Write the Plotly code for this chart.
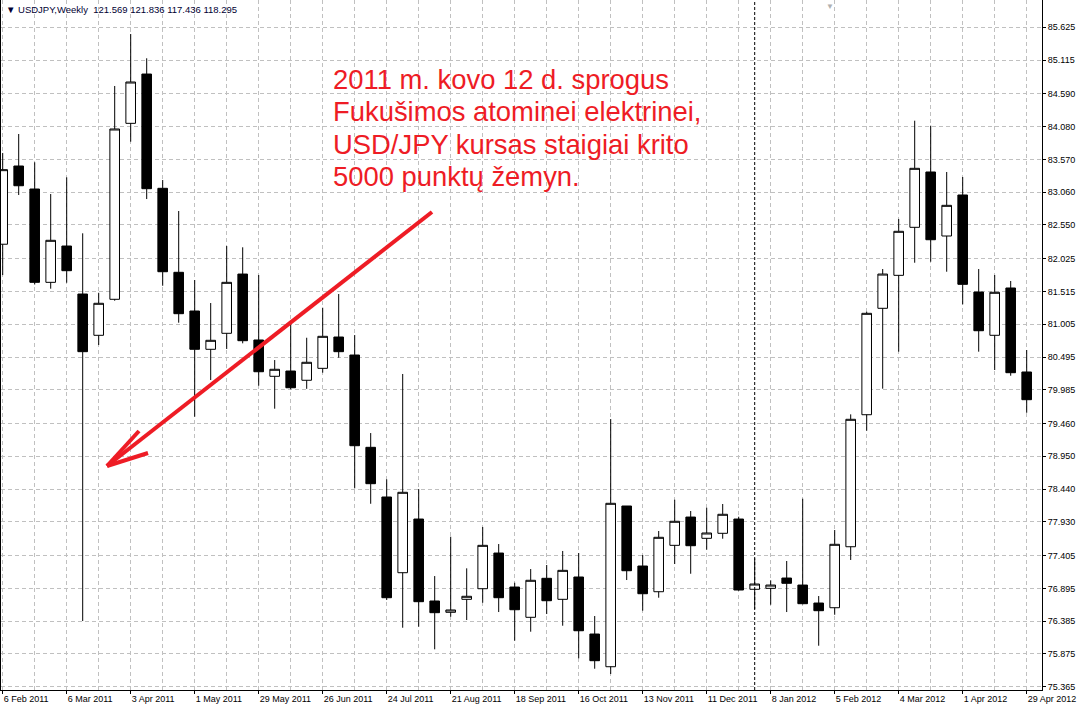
import pandas as pd
import plotly.graph_objects as go

# weekly bars, USDJPY, from 6 Feb 2011
weeks = pd.date_range("2011-02-06", periods=65, freq="7D")

opens = [82.25, 83.467, 83.109, 81.657, 82.222, 81.475, 80.833, 81.393, 84.131, 84.898,
         83.12, 81.813, 81.211, 80.615, 80.864, 81.786, 80.76, 80.195, 80.277, 80.133,
         80.319, 80.806, 80.526, 79.09, 78.317, 77.139, 77.974, 76.699, 76.523, 76.725,
         76.89, 77.445, 76.916, 76.445, 77.052, 76.725, 77.072, 76.185, 75.676, 78.177,
         77.243, 76.843, 77.565, 78.005, 77.674, 77.752, 77.974, 76.881, 76.896, 77.056,
         76.947, 76.667, 76.594, 77.543, 79.597, 81.253, 81.766, 82.513, 83.374, 82.378,
         83.016, 81.506, 80.833, 81.569, 80.262]
highs = [83.67, 83.965, 83.525, 83.031, 83.291, 82.42, 81.495, 84.712, 85.521, 85.143,
         83.249, 82.767, 81.693, 81.335, 82.222, 82.202, 81.771, 80.448, 81.06, 80.795,
         81.262, 81.475, 80.837, 79.312, 78.592, 80.231, 78.441, 77.087, 77.699, 77.207,
         77.85, 77.585, 76.983, 77.196, 77.259, 77.477, 77.445, 76.465, 79.53, 78.177,
         77.414, 77.788, 78.275, 78.099, 78.15, 78.208, 78.01, 77.363, 77.021, 77.321,
         78.29, 76.776, 77.803, 79.603, 81.2, 81.864, 82.642, 84.172, 84.094, 83.374,
         83.296, 81.864, 81.771, 81.678, 80.604]
lows = [81.77, 83.016, 81.623, 81.558, 81.651, 76.387, 80.682, 81.371, 83.845, 82.953,
        81.604, 81.029, 79.566, 80.137, 80.62, 80.708, 80.049, 79.691, 79.992, 80.0,
        80.251, 80.484, 78.452, 78.212, 76.714, 76.283, 76.299, 75.947, 76.454, 76.403,
        76.672, 76.527, 76.081, 76.221, 76.496, 76.314, 75.807, 75.645, 75.563, 77.025,
        76.548, 76.75, 77.274, 77.123, 77.497, 77.668, 76.859, 76.574, 76.641, 76.527,
        76.647, 76.003, 76.485, 77.337, 79.348, 80.002, 80.578, 81.962, 81.978, 81.822,
        81.315, 80.578, 80.293, 80.204, 79.628]
closes = [83.41, 83.16, 81.657, 82.311, 81.838, 80.578, 81.331, 84.043, 84.774, 83.114,
          81.822, 81.169, 80.615, 80.755, 81.657, 80.749, 80.266, 80.304, 80.017, 80.413,
          80.817, 80.578, 79.115, 78.524, 76.75, 78.39, 76.688, 76.517, 76.559, 76.772,
          77.565, 76.75, 76.563, 77.021, 76.703, 77.176, 76.236, 75.77, 78.219, 77.17,
          76.812, 77.69, 77.939, 77.559, 77.757, 78.048, 76.87, 76.963, 76.947, 76.974,
          76.657, 76.548, 77.581, 79.526, 81.175, 81.786, 82.451, 83.431, 82.32, 82.855,
          81.626, 80.904, 81.502, 80.251, 79.831]

price_labels = ["85.625", "85.115", "84.590", "84.080", "83.570", "83.060", "82.550",
                "82.025", "81.515", "81.005", "80.495", "79.985", "79.460", "78.950",
                "78.440", "77.930", "77.405", "76.895", "76.385", "75.875", "75.365"]

note_lines = ["2011 m. kovo 12 d. sprogus",
              "Fukušimos atominei elektrinei,",
              "USD/JPY kursas staigiai krito",
              "5000 punktų žemyn."]

RED = "#ee1c25"
GRID = "#c0c0c0"
W, H = 1086, 711
ML, MR, MT, MB = 1, 44, 0, 21


def px(x):
    return (x - ML) / (W - ML - MR)


def py(y):
    return 1 - (y - MT) / (H - MT - MB)


label_dates = list(weeks[::4])
tick_text = [f"{d.day} {d:%b %Y}" for d in label_dates]

fig = go.Figure(go.Candlestick(
    x=weeks, open=opens, high=highs, low=lows, close=closes,
    increasing=dict(line=dict(color="black", width=1), fillcolor="white"),
    decreasing=dict(line=dict(color="black", width=1), fillcolor="black"),
    whiskerwidth=0,
))

fig.update_layout(
    width=W, height=H,
    margin=dict(l=ML, r=MR, t=MT, b=MB, autoexpand=False),
    paper_bgcolor="white", plot_bgcolor="white",
    showlegend=False,
    boxgap=0.4, boxgroupgap=0,
    font=dict(family="Liberation Sans, Arial, sans-serif", size=9, color="black"),
    xaxis=dict(
        type="date",
        range=[weeks[0] - pd.Timedelta(days=0.74), weeks[0] + pd.Timedelta(days=454.7)],
        rangeslider=dict(visible=False),
        tickmode="array", tickvals=label_dates, ticktext=tick_text,
        ticks="outside", ticklen=3, tickcolor="black",
        ticklabelposition="outside right",
        showgrid=True, gridcolor=GRID, griddash="4px,3px", gridwidth=1,
        minor=dict(tickvals=list(weeks[2::4]), showgrid=True, gridcolor=GRID,
                   griddash="4px,3px", ticks=""),
        showline=True, linecolor="black", linewidth=1, zeroline=False,
    ),
    yaxis=dict(
        side="right", range=[75.314, 86.05],
        tickmode="array", tickvals=[float(v) for v in price_labels], ticktext=price_labels,
        ticks="outside", ticklen=3, tickcolor="black",
        showgrid=True, gridcolor=GRID, griddash="4px,3px", gridwidth=1,
        showline=True, mirror=True, linecolor="black", linewidth=1, zeroline=False,
    ),
)

# period separator at the new year
fig.add_shape(type="line", xref="x", yref="paper", x0=weeks[47], x1=weeks[47], y0=0, y1=1,
              line=dict(color="black", width=1, dash="3px,2px"))

# hand drawn red arrow
tip = (107, 466)
for end in [(432, 212), (139, 431), (148, 453)]:
    fig.add_shape(type="line", xref="paper", yref="paper",
                  x0=px(tip[0]), y0=py(tip[1]), x1=px(end[0]), y1=py(end[1]),
                  line=dict(color=RED, width=4))

for i, line in enumerate(note_lines):
    fig.add_annotation(text=line, xref="paper", yref="paper",
                       x=px(331), y=py(79 + 32.6 * i), xanchor="left", yanchor="middle",
                       showarrow=False,
                       font=dict(family="Liberation Sans, Arial, sans-serif", size=27.4, color=RED))

fig.add_annotation(text="▼ USDJPY,Weekly\u00a0\u00a0121.569 121.836 117.436 118.295",
                   xref="paper", yref="paper", x=px(4), y=py(9),
                   xanchor="left", yanchor="middle", showarrow=False,
                   font=dict(family="Liberation Sans, Arial, sans-serif", size=9.5, color="#000033"))

fig.add_annotation(text="▼", xref="paper", yref="paper", x=px(830), y=py(0),
                   xanchor="center", yanchor="top", showarrow=False,
                   font=dict(size=8, color="#b0b0b0"))

fig.write_html("out.html", config={"displayModeBar": False},
               post_script="document.body.style.margin='0';")
